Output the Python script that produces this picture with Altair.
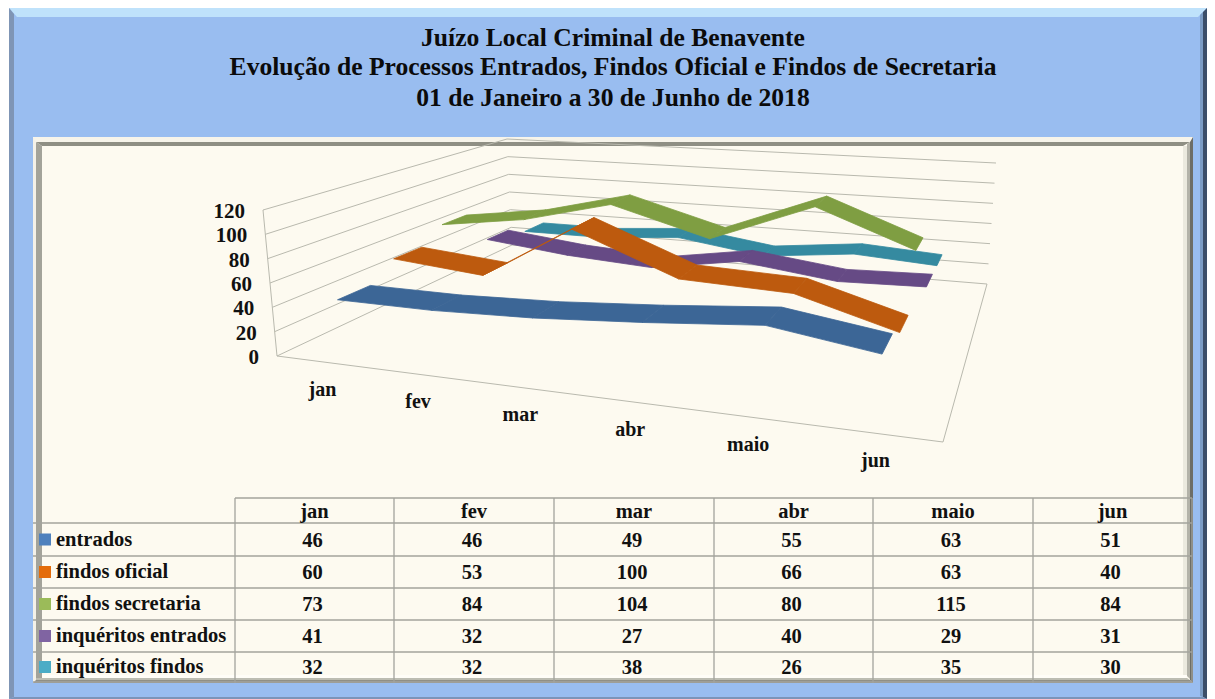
import numpy as np
import altair as alt

# ---------- data ----------
months = ["jan", "fev", "mar", "abr", "maio", "jun"]
series = ["entrados", "findos oficial", "findos secretaria", "inquéritos entrados", "inquéritos findos"]
entrados = [46, 46, 49, 55, 63, 51]
findos_oficial = [60, 53, 100, 66, 63, 40]
findos_secretaria = [73, 84, 104, 80, 115, 84]
inq_entrados = [41, 32, 27, 40, 29, 31]
inq_findos = [32, 32, 38, 26, 35, 30]
values = [entrados, findos_oficial, findos_secretaria, inq_entrados, inq_findos]
y_ticks = [0, 20, 40, 60, 80, 100, 120]
titles = ["Juízo Local Criminal de Benavente",
          "Evolução de Processos Entrados, Findos Oficial e Findos de Secretaria",
          "01 de Janeiro a 30 de Junho de 2018"]
key_colors = ["#4f81bd", "#e46c0a", "#9bbb59", "#8064a2", "#4bacc6"]
ribbon_colors = ["#3c6696", "#bd5a0e", "#7f9e42", "#664a85", "#358aa0"]

# ---------- layout ----------
W, H = 1199, 691
FONT = "Liberation Serif"
X = lambda f="x": alt.X(f"{f}:Q", scale=alt.Scale(domain=[8, 8 + W], range=[0, W], nice=False, zero=False), axis=None)
Y = lambda f="y": alt.Y(f"{f}:Q", scale=alt.Scale(domain=[8, 8 + H], range=[0, H], nice=False, zero=False), axis=None)


def homography(corners):
    src = [(0, 0), (1, 0), (1, 1), (0, 1)]
    A, b = [], []
    for (u, v), (x, y) in zip(src, corners):
        A.append([u, v, 1, 0, 0, 0, -u * x, -v * x]); b.append(x)
        A.append([0, 0, 0, u, v, 1, -u * y, -v * y]); b.append(y)
    return np.append(np.linalg.solve(np.array(A, float), np.array(b, float)), 1).reshape(3, 3)


FLOOR = homography([(277, 356), (943, 442), (987, 284), (512, 245)])
TOP = homography([(263, 210), (953, 275), (996, 163), (507, 139)])
# where each month's ribbon vertex sits along the category axis
U_SHIFT = [0.013, 0.014, 0.015, 0.016, 0.021, 0.002]
U = [(j + 0.5) / 6 + U_SHIFT[j] for j in range(6)]


def project(u, v, val):
    h = val / 120
    out = []
    for M in (FLOOR, TOP):
        p = M @ np.array([u, v, 1.0])
        out.append(p[:2] / p[2])
    q = out[0] * (1 - h) + out[1] * h
    return [round(float(q[0]), 2), round(float(q[1]), 2)]


def feature(coords, fill, stroke=None):
    ring = [list(c) for c in coords] + [list(coords[0])]
    return {"type": "Feature", "geometry": {"type": "Polygon", "coordinates": [ring]},
            "properties": {"fill": fill, "stroke": stroke or fill}}


def shapes(features, sw=0.0):
    return alt.Chart(alt.Data(values=features)).mark_geoshape(strokeWidth=sw).encode(
        fill=alt.Fill("properties.fill:N", scale=None),
        stroke=alt.Stroke("properties.stroke:N", scale=None),
    ).project(type="identity", scale=1, translate=[-8, -8])


def rect(x0, y0, x1, y1, c):
    return feature([(x0, y0), (x1, y0), (x1, y1), (x0, y1)], c)


# ---------- frames ----------
frame = [
    rect(9, 8, 1207, 699, "#99bdf0"),
    feature([(9, 8), (1207, 8), (1198, 17), (17, 17)], "#bfe2fb"),
    feature([(9, 8), (14, 14), (14, 697), (9, 699)], "#7f95b5"),
    feature([(1207, 8), (1203, 12), (1203, 697), (1207, 699)], "#3c4e68"),
    feature([(1203, 12), (1200, 15), (1200, 696), (1203, 697)], "#7c9cc4"),
    feature([(9, 699), (14, 697), (1203, 697), (1207, 699)], "#7d94b8"),
    rect(33, 137, 1193, 683, "#fdfaf0"),
    feature([(33, 137), (1193, 137), (1190, 142), (36, 142)], "#f7f4ea"),
    feature([(36, 142), (1190, 142), (1183, 146), (42, 146)], "#8f8f84"),
    feature([(33, 137), (36, 142), (36, 683), (33, 683)], "#f4f1e8"),
    feature([(36, 142), (42, 146), (42, 678), (36, 683)], "#a3a39a"),
    feature([(1183, 146), (1187, 146), (1187, 676), (1183, 676)], "#ebe9de"),
    feature([(1187, 144), (1190, 142), (1190, 679), (1187, 676)], "#b3b2a8"),
    feature([(1193, 137), (1190, 142), (1190, 680), (1193, 683)], "#6d6d66"),
    rect(42, 675, 1187, 678, "#fffdf7"),
    feature([(36, 678), (1187, 678), (1190, 680), (36, 680)], "#bdbdb2"),
    feature([(33, 683), (36, 680), (1190, 680), (1193, 683)], "#8f8f86"),
]

# ---------- 3-D grid ----------
grid_rows = []
for t in y_ticks:
    a, b, c = project(0, 0, t), project(0, 1, t), project(1, 1, t)
    grid_rows.append({"x": a[0], "y": a[1], "x2": b[0], "y2": b[1]})
    grid_rows.append({"x": b[0], "y": b[1], "x2": c[0], "y2": c[1]})
p00, p10, p11 = project(0, 0, 0), project(1, 0, 0), project(1, 1, 0)
ptop = project(0, 0, 120)
for a, b in [(p00, p10), (p10, p11), (p00, ptop)]:
    grid_rows.append({"x": a[0], "y": a[1], "x2": b[0], "y2": b[1]})
grid = alt.Chart(alt.Data(values=grid_rows)).mark_rule(color="#b9b9ae", strokeWidth=1).encode(
    x=X(), y=Y(), x2="x2:Q", y2="y2:Q")

# ---------- ribbons: drawn back to front ----------
DV = 0.055
ribbons = []
for s in reversed(range(len(series))):
    v = (s + 0.5) / len(series)
    for j in range(len(months) - 1):
        v0, v1 = values[s][j], values[s][j + 1]
        quad = [project(U[j], v - DV, v0), project(U[j + 1], v - DV, v1),
                project(U[j + 1], v + DV, v1), project(U[j], v + DV, v0)]
        ribbons.append(feature(quad, ribbon_colors[s]))
ribbon_layer = shapes(ribbons, 0.8)

# ---------- axis labels ----------
ytxt = []
for t in y_ticks:
    p = project(0, 0, t)
    ytxt.append({"x": p[0] - 18, "y": p[1] + 2, "t": str(t)})
y_labels = alt.Chart(alt.Data(values=ytxt)).mark_text(font=FONT, fontWeight="bold", fontSize=21, align="right",
                                                      baseline="middle", color="#111111").encode(x=X(), y=Y(), text="t:N")
xtxt = []
for j, m in enumerate(months):
    p = project((j + 0.5) / 6, 0, 0)
    xtxt.append({"x": p[0], "y": p[1] + 28, "t": m})
x_labels = alt.Chart(alt.Data(values=xtxt)).mark_text(font=FONT, fontWeight="bold", fontSize=20, align="center",
                                                      baseline="middle", color="#111111").encode(x=X(), y=Y(), text="t:N")

# ---------- titles ----------
title_rows = [{"x": 613, "y": yy, "t": t} for yy, t in zip([38, 67, 98], titles)]
title_layer = alt.Chart(alt.Data(values=title_rows)).mark_text(font=FONT, fontWeight="bold", fontSize=25.6, align="center",
                                                               baseline="middle", color="#0b0b0b").encode(x=X(), y=Y(), text="t:N")

# ---------- data table ----------
col_x = [235, 394, 554, 714, 873, 1033, 1192]
row_y = [498, 523, 556, 588, 620, 652, 682]
lines = []
for i, y in enumerate(row_y):
    lines.append({"x": 235 if i == 0 else 33, "x2": 1192, "y": y, "y2": y})
for x in col_x:
    lines.append({"x": x, "x2": x, "y": 498, "y2": 683})
table_lines = alt.Chart(alt.Data(values=lines)).mark_rule(color="#a3a39c", strokeWidth=1.3).encode(
    x=X(), y=Y(), x2="x2:Q", y2="y2:Q")

cells = []
for j, m in enumerate(months):
    cx = (col_x[j] + col_x[j + 1]) / 2
    cells.append({"x": cx, "y": (row_y[0] + row_y[1]) / 2 + 1, "t": m})
    for s in range(len(series)):
        cells.append({"x": cx - 2, "y": (row_y[s + 1] + row_y[s + 2]) / 2 + 1, "t": str(values[s][j])})
cell_layer = alt.Chart(alt.Data(values=cells)).mark_text(font=FONT, fontWeight="bold", fontSize=20.5, align="center",
                                                         baseline="middle", color="#111111").encode(x=X(), y=Y(), text="t:N")
names = [{"x": 56, "y": (row_y[s + 1] + row_y[s + 2]) / 2, "t": n} for s, n in enumerate(series)]
name_layer = alt.Chart(alt.Data(values=names)).mark_text(font=FONT, fontWeight="bold", fontSize=20.5, align="left",
                                                         baseline="middle", color="#111111").encode(x=X(), y=Y(), text="t:N")
keys = []
for s in range(len(series)):
    cy = (row_y[s + 1] + row_y[s + 2]) / 2
    keys.append(rect(39, cy - 6, 51, cy + 6, key_colors[s]))
key_layer = shapes(keys)

chart = alt.layer(shapes(frame), grid, ribbon_layer, y_labels, x_labels, title_layer,
                  table_lines, key_layer, cell_layer, name_layer).properties(
    width=W, height=H, padding=0, background="#ffffff",
    autosize=alt.AutoSizeParams(type="none"),
).configure_view(stroke=None)

chart.save("out.html", embed_options={"renderer": "svg", "actions": False})
